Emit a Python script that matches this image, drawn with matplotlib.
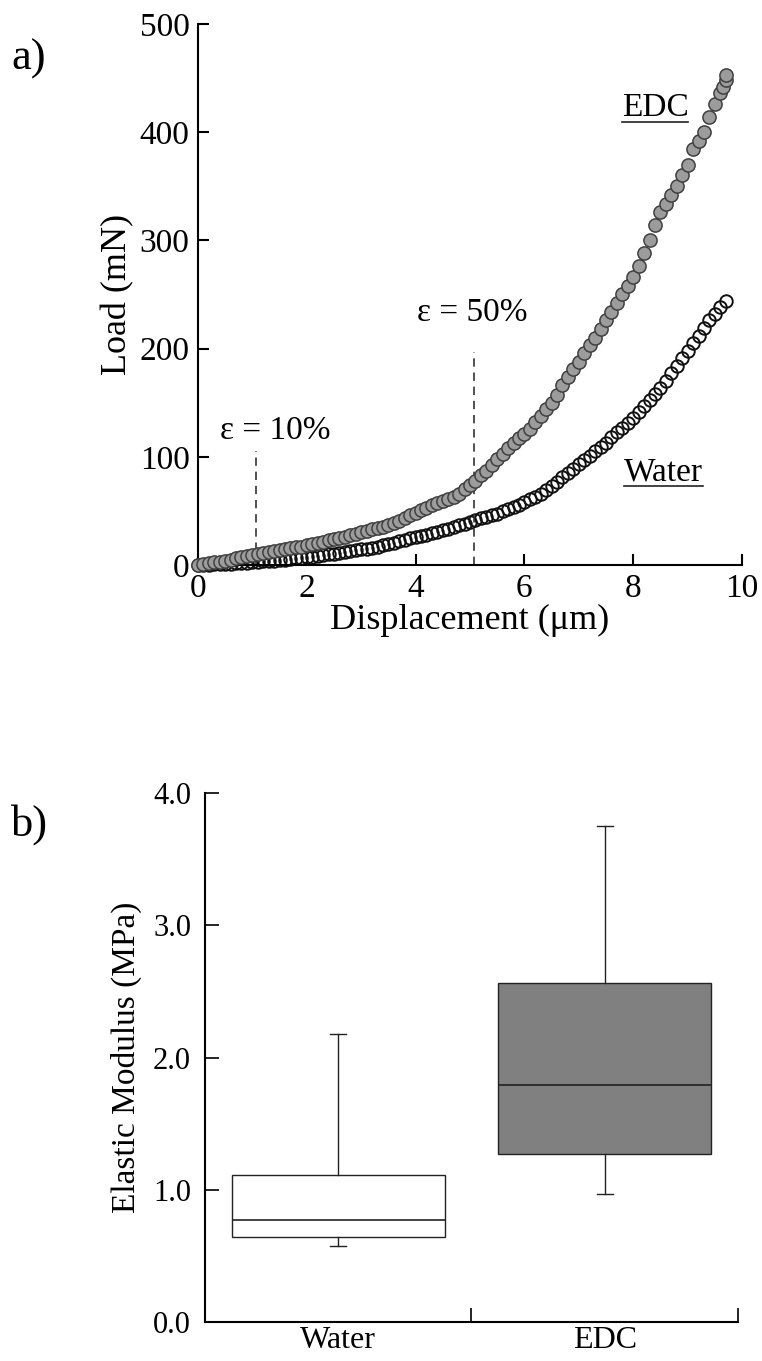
import matplotlib
matplotlib.use("Agg")
import matplotlib.pyplot as plt
from matplotlib.lines import Line2D
from matplotlib.ticker import FormatStrFormatter, FixedLocator

plt.rcParams['font.family'] = ['Liberation Serif', 'DejaVu Serif']

# a) load-displacement curves (read from the picture)
disp_edc = [0.0, 0.1, 0.2, 0.3, 0.4, 0.5, 0.6, 0.7, 0.8, 0.9,
            1.0, 1.1, 1.2, 1.3, 1.4, 1.5, 1.6, 1.7, 1.8, 1.9,
            2.0, 2.1, 2.2, 2.3, 2.4, 2.5, 2.6, 2.7, 2.8, 2.9,
            3.0, 3.1, 3.2, 3.3, 3.4, 3.5, 3.6, 3.7, 3.8, 3.9,
            4.0, 4.1, 4.2, 4.3, 4.4, 4.5, 4.6, 4.7, 4.8, 4.9,
            5.0, 5.1, 5.2, 5.3, 5.4, 5.5, 5.6, 5.7, 5.8, 5.9,
            6.0, 6.1, 6.2, 6.3, 6.4, 6.5, 6.6, 6.7, 6.8, 6.9,
            7.0, 7.1, 7.2, 7.3, 7.4, 7.5, 7.6, 7.7, 7.8, 7.9,
            8.0, 8.1, 8.2, 8.3, 8.4, 8.5, 8.6, 8.7, 8.8, 8.9,
            9.0, 9.1, 9.2, 9.3, 9.4, 9.5, 9.6, 9.65, 9.7, 9.7]
load_edc = [0, 1, 2, 2.5, 3, 4, 5, 6, 7, 8,
            9, 10, 11, 12, 13, 14, 15, 16, 16.5, 17,
            18, 19, 20, 21.5, 23, 24, 25, 26, 27.5, 29,
            30, 31.5, 33, 34, 35.5, 37, 39, 41, 43, 46,
            48, 51, 53, 55, 57, 59, 61, 63, 66, 70,
            74, 78, 83, 87, 92, 98, 103, 108, 113, 117,
            121, 126, 132, 138, 144, 150, 157, 166, 174, 181,
            188, 196, 203, 210, 218, 226, 234, 242, 250, 258,
            266, 276, 288, 300, 314, 326, 334, 342, 350, 360,
            370, 384, 392, 400, 414, 426, 436, 442, 448, 453]

disp_water = [0.0, 0.1, 0.2, 0.3, 0.4, 0.5, 0.6, 0.7, 0.8, 0.9,
              1.0, 1.1, 1.2, 1.3, 1.4, 1.5, 1.6, 1.7, 1.8, 1.9,
              2.0, 2.1, 2.2, 2.3, 2.4, 2.5, 2.6, 2.7, 2.8, 2.9,
              3.0, 3.1, 3.2, 3.3, 3.4, 3.5, 3.6, 3.7, 3.8, 3.9,
              4.0, 4.1, 4.2, 4.3, 4.4, 4.5, 4.6, 4.7, 4.8, 4.9,
              5.0, 5.1, 5.2, 5.3, 5.4, 5.5, 5.6, 5.7, 5.8, 5.9,
              6.0, 6.1, 6.2, 6.3, 6.4, 6.5, 6.6, 6.7, 6.8, 6.9,
              7.0, 7.1, 7.2, 7.3, 7.4, 7.5, 7.6, 7.7, 7.8, 7.9,
              8.0, 8.1, 8.2, 8.3, 8.4, 8.5, 8.6, 8.7, 8.8, 8.9,
              9.0, 9.1, 9.2, 9.3, 9.4, 9.5, 9.6, 9.7]
load_water = [0, 0.2, 0.4, 0.6, 0.8, 1, 1.2, 1.5, 1.8, 2.1,
              2.5, 2.9, 3.3, 3.7, 4.1, 4.5, 5, 5.5, 6, 6.5,
              7, 7.6, 8.3, 9, 9.7, 10.5, 11.3, 12, 12.8, 13.5,
              14.3, 15.2, 16, 17, 18, 19.2, 20.5, 22, 23.5, 25,
              26, 27, 28, 29.5, 30.5, 32, 33.5, 35, 36.5, 38,
              40, 41.5, 43, 44.5, 46, 47.5, 49.5, 51.5, 53.5, 55.5,
              58, 60.5, 63, 66, 69.5, 73, 77, 81, 85, 89,
              93, 97, 101, 105, 109, 113, 118, 122.5, 127, 131.5,
              136, 141, 146.5, 152, 158, 164, 170, 177, 184, 191,
              198, 205, 212, 219, 226, 232, 238, 244]

strain_x = [1.07, 5.08]
strain_top = [105, 197]
strain_labels = ["ε = 10%", "ε = 50%"]

# b) elastic modulus box plot
groups = ["Water", "EDC"]
q1 = [0.645, 1.267]
med = [0.774, 1.793]
q3 = [1.111, 2.562]
wlo = [0.576, 0.965]
whi = [2.18, 3.75]
box_colors = ["white", "#808080"]

fig = plt.figure(figsize=(7.62, 13.61), dpi=100)

# ---------- panel a ----------
ax1 = fig.add_axes([0.2598, 0.5849, 0.714, 0.3975])
ax1.plot(disp_edc, load_edc, 'o', ms=9.5, mfc='#9c9c9c', mec='#404040',
         mew=1.1, clip_on=False, zorder=3)
ax1.plot(disp_water, load_water, 'o', ms=9, mfc='none', mec='#111111',
         mew=1.4, clip_on=False, zorder=2)
for xv, top in zip(strain_x, strain_top):
    ax1.vlines(xv, 0, top, colors='#333333', linestyles=(0, (5, 3.5)), lw=1.2)
ax1.text(1.42, 124, strain_labels[0], fontsize=24, ha='center', va='center')
ax1.text(5.05, 233, strain_labels[1], fontsize=24, ha='center', va='center')
t_edc = ax1.text(8.4, 423, "EDC", fontsize=24, ha='center', va='center')
t_wat = ax1.text(8.55, 86, "Water", fontsize=24, ha='center', va='center')

ax1.set_xlim(0, 10)
ax1.set_ylim(0, 500)
ax1.set_xticks([0, 2, 4, 6, 8, 10])
ax1.set_yticks([0, 100, 200, 300, 400, 500])
ax1.spines['top'].set_visible(False)
ax1.spines['right'].set_visible(False)
for s in ['left', 'bottom']:
    ax1.spines[s].set_linewidth(1.5)
ax1.tick_params(direction='in', length=8, width=1.5, labelsize=24, pad=6)
ax1.set_xlabel("Displacement (μm)", fontsize=26, labelpad=0)
ax1.set_ylabel("Load (mN)", fontsize=26, labelpad=4)
fig.text(0.015, 0.957, "a)", fontsize=32, ha='left', va='center')

# ---------- panel b ----------
ax2 = fig.add_axes([0.269, 0.02866, 0.6995, 0.38864])
stats = []
for i in range(len(groups)):
    stats.append(dict(label=groups[i], q1=q1[i], med=med[i], q3=q3[i],
                      whislo=wlo[i], whishi=whi[i], fliers=[]))
bp = ax2.bxp(stats, positions=[0.5, 1.5], widths=0.8, patch_artist=True,
             showfliers=False, capwidths=0.06,
             boxprops=dict(edgecolor='#222222', linewidth=1.0),
             medianprops=dict(color='#222222', linewidth=1.2),
             whiskerprops=dict(color='#222222', linewidth=1.0),
             capprops=dict(color='#222222', linewidth=1.0))
for patch, c in zip(bp['boxes'], box_colors):
    patch.set_facecolor(c)

ax2.set_xlim(0, 2)
ax2.set_ylim(0, 4)
ax2.set_yticks([0, 1, 2, 3, 4])
ax2.yaxis.set_major_formatter(FormatStrFormatter('%.1f'))
ax2.xaxis.set_major_locator(FixedLocator([1, 2]))
ax2.xaxis.set_minor_locator(FixedLocator([0.5, 1.5]))
ax2.set_xticklabels(["", ""])
ax2.set_xticklabels(groups, minor=True)
ax2.tick_params(axis='x', which='minor', length=0, labelsize=23, pad=3)
ax2.tick_params(axis='x', which='major', direction='in', length=10, width=1.2)
ax2.tick_params(axis='y', direction='in', length=10, width=1.2, labelsize=22, pad=10)
ax2.spines['top'].set_visible(False)
ax2.spines['right'].set_visible(False)
for s in ['left', 'bottom']:
    ax2.spines[s].set_linewidth(1.5)
ax2.set_ylabel("Elastic Modulus (MPa)", fontsize=24, labelpad=8)
fig.text(0.015, 0.394, "b)", fontsize=32, ha='left', va='center')

# underline the curve labels
fig.canvas.draw()
r = fig.canvas.get_renderer()
for t in [t_edc, t_wat]:
    bb = t.get_window_extent(renderer=r)
    yline = (bb.y0 + 1) / fig.bbox.height
    fig.add_artist(Line2D([bb.x0 / fig.bbox.width, bb.x1 / fig.bbox.width],
                          [yline, yline], color='#222222', lw=1.2))

fig.savefig("out.png", dpi=100)
